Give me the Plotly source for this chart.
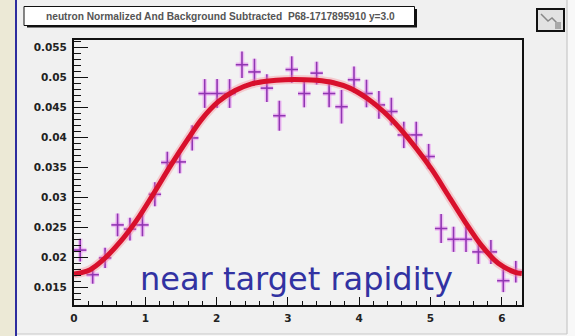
import plotly.graph_objects as go

# ---------------- data ----------------
phi_bins = [0.087, 0.262, 0.436, 0.611, 0.785, 0.960, 1.134, 1.309, 1.484,
            1.658, 1.833, 2.007, 2.182, 2.356, 2.531, 2.705, 2.880, 3.054,
            3.229, 3.403, 3.578, 3.752, 3.927, 4.102, 4.276, 4.451, 4.625,
            4.800, 4.974, 5.149, 5.323, 5.498, 5.672, 5.847, 6.021, 6.196]
counts = [0.0212, 0.0171, 0.0199, 0.0254, 0.0247, 0.0254, 0.0305, 0.0358, 0.0359,
          0.0399, 0.0473, 0.0473, 0.0473, 0.0521, 0.0509, 0.0482, 0.0436, 0.0513,
          0.0473, 0.0507, 0.0473, 0.0451, 0.0496, 0.0473, 0.0454, 0.0443, 0.0404,
          0.0404, 0.0368, 0.0248, 0.0230, 0.0230, 0.0209, 0.0209, 0.0161, 0.0176]
count_err = [0.0019, 0.0015, 0.0017, 0.0019, 0.0019, 0.0019, 0.0020, 0.0018, 0.0019,
             0.0021, 0.0024, 0.0024, 0.0024, 0.0022, 0.0022, 0.0023, 0.0025, 0.0022,
             0.0023, 0.0019, 0.0023, 0.0028, 0.0022, 0.0023, 0.0023, 0.0023, 0.0022,
             0.0022, 0.0021, 0.0024, 0.0021, 0.0021, 0.0020, 0.0020, 0.0019, 0.0018]
bin_half_width = 0.0873

fit_phi = [0.00, 0.22, 0.41, 0.65, 0.88, 1.11, 1.35, 1.58, 1.79, 2.02, 2.26, 2.49,
           2.73, 2.96, 3.24, 3.40, 3.64, 3.87, 4.11, 4.34, 4.57, 4.81, 5.02, 5.25,
           5.48, 5.72, 5.95, 6.19, 6.28]
fit_val = [0.0172, 0.0179, 0.0196, 0.0226, 0.0262, 0.0305, 0.0352, 0.0394, 0.0430,
           0.0459, 0.0478, 0.0489, 0.0494, 0.0496, 0.0496, 0.0495, 0.0491, 0.0482,
           0.0465, 0.0443, 0.0415, 0.0380, 0.0346, 0.0303, 0.0260, 0.0219, 0.0190,
           0.0175, 0.0173]

x_range = [0, 6.2832]
y_range = [0.01205, 0.05622]
title_text = "neutron Normalized And Background Subtracted  P68-1717895910 y=3.0"
label_text = "near target rapidity"

# ---------------- layout geometry ----------------
W, H = 575, 336
L, R, T, B = 74, 522, 40, 305


def fx(px):
    return (px - L) / (R - L)


def fy(py):
    return (B - py) / (B - T)


fig = go.Figure()

# glow under the crosses
fig.add_trace(go.Scatter(
    x=phi_bins, y=counts, mode="markers",
    marker=dict(size=0.1, color="rgba(0,0,0,0)"),
    error_x=dict(type="constant", value=bin_half_width, width=0,
                 color="rgba(236,140,246,0.5)", thickness=4.5),
    error_y=dict(type="data", array=count_err, width=0,
                 color="rgba(236,140,246,0.5)", thickness=4.5),
    showlegend=False, hoverinfo="skip"))
fig.add_trace(go.Scatter(
    x=phi_bins, y=counts, mode="markers",
    marker=dict(size=0.1, color="rgba(0,0,0,0)"),
    error_x=dict(type="constant", value=bin_half_width, width=0,
                 color="#9036B2", thickness=1.6),
    error_y=dict(type="data", array=count_err, width=0,
                 color="#9036B2", thickness=1.6),
    showlegend=False))

# fit curve
fig.add_trace(go.Scatter(
    x=fit_phi, y=fit_val, mode="lines",
    line=dict(color="rgba(245,130,140,0.35)", width=9, shape="spline", smoothing=1.0),
    showlegend=False, hoverinfo="skip"))
fig.add_trace(go.Scatter(
    x=fit_phi, y=fit_val, mode="lines",
    line=dict(color="#D8102C", width=5, shape="spline", smoothing=1.0),
    showlegend=False))

shapes = [
    # cream strip at far left
    dict(type="rect", xref="paper", yref="paper", x0=fx(0), x1=fx(15), y0=fy(H), y1=fy(0),
         fillcolor="#ECE9D6", line=dict(width=0), layer="below"),
    # blue rule
    dict(type="rect", xref="paper", yref="paper", x0=fx(15), x1=fx(17), y0=fy(H), y1=fy(0),
         fillcolor="#2D2D9E", line=dict(width=0), layer="below"),
    # right light strip + border
    dict(type="rect", xref="paper", yref="paper", x0=fx(567), x1=fx(W), y0=fy(H), y1=fy(0),
         fillcolor="#F8F8F8", line=dict(width=0), layer="below"),
    dict(type="line", xref="paper", yref="paper", x0=fx(567), x1=fx(567), y0=fy(334), y1=fy(0),
         line=dict(color="#C8C8C8", width=1.2)),
    # bottom light strip + border
    dict(type="rect", xref="paper", yref="paper", x0=fx(17), x1=fx(W), y0=fy(H), y1=fy(334),
         fillcolor="#F8F8F8", line=dict(width=0), layer="below"),
    dict(type="line", xref="paper", yref="paper", x0=fx(17), x1=fx(567), y0=fy(334), y1=fy(334),
         line=dict(color="#C8C8C8", width=1.2)),
    # title box shadow + box
    dict(type="rect", xref="paper", yref="paper", x0=fx(27), x1=fx(417), y0=fy(27.5), y1=fy(9),
         fillcolor="#111111", line=dict(width=0)),
    dict(type="rect", xref="paper", yref="paper", x0=fx(24), x1=fx(414.5), y0=fy(25.5), y1=fy(6.5),
         fillcolor="white", line=dict(color="#111111", width=1)),
    # small icon top right
    dict(type="rect", xref="paper", yref="paper", x0=fx(537), x1=fx(564), y0=fy(31), y1=fy(9),
         fillcolor="#E2E2E2", line=dict(color="#111111", width=2)),
    dict(type="path", xref="paper", yref="paper",
         path=f"M {fx(541)} {fy(14)} L {fx(548)} {fy(21)} L {fx(552)} {fy(18)} L {fx(560)} {fy(26)}",
         line=dict(color="#888888", width=1.5)),
    dict(type="rect", xref="paper", yref="paper", x0=fx(555), x1=fx(561), y0=fy(29), y1=fy(22),
         fillcolor="#A8A8A8", line=dict(width=0)),
]

annotations = [
    dict(xref="paper", yref="paper", x=fx(220), y=fy(16), text=title_text,
         showarrow=False, xanchor="center", yanchor="middle",
         font=dict(family="Liberation Sans", size=10.2, color="#555555", weight="bold")),
    dict(xref="paper", yref="paper", x=fx(138), y=fy(279), text=label_text,
         showarrow=False, xanchor="left", yanchor="middle",
         font=dict(family="DejaVu Sans", size=32, color="#3232A2")),
]

axis_font = dict(family="DejaVu Sans", size=10.5, color="#222222", weight="bold")

fig.update_layout(
    width=W, height=H,
    margin=dict(l=L, r=W - R, t=T, b=H - B, pad=0),
    paper_bgcolor="#F0F0F0",
    plot_bgcolor="#F2F2F2",
    shapes=shapes,
    annotations=annotations,
    xaxis=dict(range=x_range, showgrid=False, zeroline=False,
               showline=True, linecolor="#111111", linewidth=2, mirror=True,
               ticks="inside", ticklen=8, tickwidth=1, tickcolor="#111111",
               tick0=0, dtick=1, tickfont=axis_font, ticklabelstandoff=2,
               minor=dict(ticks="inside", ticklen=4, tickwidth=1, tickcolor="#111111", dtick=0.2)),
    yaxis=dict(range=y_range, showgrid=False, zeroline=False,
               showline=True, linecolor="#111111", linewidth=2, mirror=True,
               ticks="inside", ticklen=14, tickwidth=1, tickcolor="#111111",
               tick0=0.015, dtick=0.005, tickformat=".3~f", tickfont=axis_font,
               ticklabelstandoff=3,
               minor=dict(ticks="inside", ticklen=7, tickwidth=1, tickcolor="#111111", dtick=0.001)),
)

fig.write_html("out.html")
